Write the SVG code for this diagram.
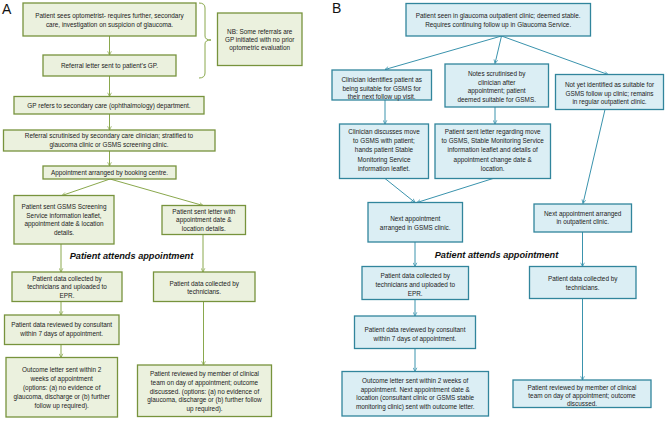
<svg xmlns="http://www.w3.org/2000/svg" width="669" height="421" viewBox="0 0 669 421">
<style>
.g{fill:#ebf1de;stroke:#77933c;stroke-width:1.3}
.b{fill:#dbeef4;stroke:#31859c;stroke-width:1.3}
.gc{stroke:#8aa84d;stroke-width:1;fill:none;marker-end:url(#ag)}
.bc{stroke:#3a93ad;stroke-width:1;fill:none;marker-end:url(#ab)}
text{font-family:"Liberation Sans",Arial,sans-serif;font-size:6.4px;fill:#222;text-anchor:middle}
.lab{font-size:14px;text-anchor:start;fill:#111}
.att{font-size:9.2px;font-weight:bold;font-style:italic;fill:#111}
</style>
<defs>
<marker id="ag" viewBox="0 0 8 8" refX="7" refY="4" markerWidth="5" markerHeight="5" orient="auto" markerUnits="userSpaceOnUse"><path d="M1,1 L7,4 L1,7" fill="none" stroke="#8aa84d" stroke-width="1.2"/></marker>
<marker id="ab" viewBox="0 0 8 8" refX="7" refY="4" markerWidth="5" markerHeight="5" orient="auto" markerUnits="userSpaceOnUse"><path d="M1,1 L7,4 L1,7" fill="none" stroke="#3a93ad" stroke-width="1.2"/></marker>
</defs>
<rect width="669" height="421" fill="#fff"/>
<text class="lab" x="2" y="14">A</text>
<text class="lab" x="332" y="13">B</text>

<g id="connectors">
<path class="gc" d="M109.5,36 V55"/>
<path class="gc" d="M109.5,76 V96.5"/>
<path class="gc" d="M109.5,114 V130"/>
<path class="gc" d="M109.5,151 V166"/>
<path class="gc" d="M110,179 L62,195.5"/>
<path class="gc" d="M110,179 L203,205.5"/>
<path class="gc" d="M61,244 V272"/>
<path class="gc" d="M203,234.5 V272"/>
<path class="gc" d="M61,301.5 V315"/>
<path class="gc" d="M61,344.5 V357.5"/>
<path class="gc" d="M203.5,301.5 V365"/>
<path d="M199,3 Q205,3 205,8 V36 Q205,40 211,40 Q205,40 205,44 V73 Q205,78 199,78" fill="none" stroke="#8aa84d" stroke-width="1"/>
<path class="bc" d="M501.5,36 L385,69.5"/>
<path class="bc" d="M501.5,36 L495,63.5"/>
<path class="bc" d="M501.5,36 L608,74.5"/>
<path class="bc" d="M385,100 V124"/>
<path class="bc" d="M495,107 V124"/>
<path class="bc" d="M385,178.5 L415,202.5"/>
<path class="bc" d="M493,178.5 L417,202.5"/>
<path class="bc" d="M605,109.5 L583,203.5"/>
<path class="bc" d="M415,242 V266.5"/>
<path class="bc" d="M582.5,232 V266.5"/>
<path class="bc" d="M415,299.5 V316"/>
<path class="bc" d="M415,348.5 V371.5"/>
<path class="bc" d="M582.5,298.5 V380"/>
</g>

<text class="att" x="131.5" y="259">Patient attends appointment</text>
<text class="att" x="496.5" y="258">Patient attends appointment</text>

<g id="a1"><rect class="g" x="23" y="3" width="173" height="33"/>
<text x="109.5" y="18.2">Patient sees optometrist- requires further, secondary</text>
<text x="109.5" y="26.7">care, investigation on suspicion of glaucoma.</text></g>
<g id="a2"><rect class="g" x="43" y="55" width="133" height="21"/>
<text x="109.5" y="67.7">Referral letter sent to patient’s GP.</text></g>
<g id="anb"><rect class="g" x="217.5" y="13" width="84.5" height="52.5"/>
<text x="259.7" y="33.7">NB: Some referrals are</text>
<text x="259.7" y="41.7">GP initiated with no prior</text>
<text x="259.7" y="49.7">optometric  evaluation</text></g>
<g id="a3"><rect class="g" x="14" y="96.5" width="190" height="17.5"/>
<text x="109" y="107.5">GP refers to secondary care (ophthalmology) department.</text></g>
<g id="a4"><rect class="g" x="3.5" y="130" width="211.5" height="21"/>
<text x="109" y="138">Referral scrutinised by secondary care clinician; stratified to</text>
<text x="109" y="146.5">glaucoma clinic or GSMS screening clinic.</text></g>
<g id="a5"><rect class="g" x="43" y="166" width="133" height="13"/>
<text x="109.5" y="174.9">Appointment  arranged by booking centre.</text></g>
<g id="a6"><rect class="g" x="14" y="195.5" width="100" height="48.5"/>
<text x="64" y="209.2">Patient sent GSMS Screening</text>
<text x="64" y="217.5">Service  information leaflet,</text>
<text x="64" y="226.2">appointment date &amp; location</text>
<text x="64" y="234.9">details.</text></g>
<g id="a7"><rect class="g" x="162" y="205.5" width="83.5" height="29"/>
<text x="203.8" y="213.9">Patient sent letter with</text>
<text x="203.8" y="222.2">appointment  date &amp;</text>
<text x="203.8" y="230.7">location details.</text></g>
<g id="a8"><rect class="g" x="12" y="272" width="110" height="29.5"/>
<text x="67" y="280.5">Patient data collected by</text>
<text x="67" y="288.9">technicians and uploaded to</text>
<text x="67" y="297.7">EPR.</text></g>
<g id="a9"><rect class="g" x="153.5" y="272" width="101.5" height="29.5"/>
<text x="204.2" y="285.5">Patient data collected by</text>
<text x="204.2" y="293.9">technicians.</text></g>
<g id="a10"><rect class="g" x="4.5" y="315" width="114.5" height="29.5"/>
<text x="61.7" y="327.2">Patient data reviewed by consultant</text>
<text x="61.7" y="336.2">within 7 days of appointment.</text></g>
<g id="a11"><rect class="g" x="6" y="357.5" width="111.5" height="59.5"/>
<text x="61.7" y="372.2">Outcome letter sent within 2</text>
<text x="61.7" y="381.2">weeks of appointment</text>
<text x="61.7" y="389.9"> (options: (a) no evidence of</text>
<text x="61.7" y="398.7">glaucoma, discharge or (b) further</text>
<text x="61.7" y="407.5">follow up required).</text></g>
<g id="a12"><rect class="g" x="137.5" y="365" width="134" height="51.5"/>
<text x="204.5" y="376.2">Patient reviewed by member  of clinical</text>
<text x="204.5" y="384.9">team on day of appointment;  outcome</text>
<text x="204.5" y="393.5">discussed. (options: (a) no evidence of</text>
<text x="204.5" y="402.2">glaucoma, discharge or (b) further  follow</text>
<text x="204.5" y="410.9">up required).</text></g>

<g id="b1"><rect class="b" x="406" y="3.5" width="184.5" height="32.5"/>
<text x="498.2" y="18.2">Patient seen in glaucoma outpatient clinic; deemed stable.</text>
<text x="498.2" y="27.2">Requires continuing follow up in Glaucoma Service.</text></g>
<g id="b2"><rect class="b" x="332" y="70" width="99.5" height="30"/>
<text x="381.7" y="82.2">Clinician identifies patient as</text>
<text x="381.7" y="90.5">being suitable for GSMS  for</text>
<text x="381.7" y="98.9">their next  follow up visit.</text></g>
<g id="b3"><rect class="b" x="445" y="64" width="103.5" height="43"/>
<text x="496.7" y="76.2">Notes scrutinised by</text>
<text x="496.7" y="84.5">clinician after</text>
<text x="496.7" y="92.9">appointment;  patient</text>
<text x="496.7" y="101.5">deemed  suitable for GSMS.</text></g>
<g id="b4"><rect class="b" x="555.5" y="74.5" width="108" height="35"/>
<text x="609.5" y="87.2">Not yet identified as suitable for</text>
<text x="609.5" y="96.2">GSMS follow up clinic; remains</text>
<text x="609.5" y="104.2">in regular outpatient clinic.</text></g>
<g id="b5"><rect class="b" x="339.5" y="124" width="89" height="54.5"/>
<text x="384" y="134.2">Clinician discusses move</text>
<text x="384" y="143.2">to GSMS  with patient;</text>
<text x="384" y="152.2">hands patient Stable</text>
<text x="384" y="161.5">Monitoring  Service</text>
<text x="384" y="170.5">information leaflet.</text></g>
<g id="b6"><rect class="b" x="435" y="124" width="115.5" height="54.5"/>
<text x="492.7" y="134.2">Patient sent letter regarding move</text>
<text x="492.7" y="143.2">to GSMS,  Stable Monitoring Service</text>
<text x="492.7" y="152.2">information leaflet and details of</text>
<text x="492.7" y="161.5">appointment  change date &amp;</text>
<text x="492.7" y="170.5">location.</text></g>
<g id="b7"><rect class="b" x="368" y="202.5" width="94.5" height="39.5"/>
<text x="415.2" y="220.5">Next appointment</text>
<text x="415.2" y="229.5">arranged in GSMS  clinic.</text></g>
<g id="b8"><rect class="b" x="534" y="204" width="97.5" height="28"/>
<text x="582.7" y="215.5">Next appointment  arranged</text>
<text x="582.7" y="224.2">in outpatient clinic.</text></g>
<g id="b9"><rect class="b" x="362" y="266.5" width="106.5" height="33"/>
<text x="415.2" y="278.2">Patient data collected by</text>
<text x="415.2" y="287.2">technicians and uploaded to</text>
<text x="415.2" y="295.5">EPR.</text></g>
<g id="b10"><rect class="b" x="529.5" y="266.5" width="106.5" height="32"/>
<text x="582.7" y="280.5">Patient data collected by</text>
<text x="582.7" y="289.5">technicians.</text></g>
<g id="b11"><rect class="b" x="354.5" y="316" width="121" height="32.5"/>
<text x="415" y="332.2">Patient data reviewed by consultant</text>
<text x="415" y="341.2">within 7 days of appointment.</text></g>
<g id="b12"><rect class="b" x="342" y="371.5" width="146.5" height="44.5"/>
<text x="415.2" y="382.9">Outcome letter sent within 2 weeks of</text>
<text x="415.2" y="391.9">appointment.  Next appointment  date &amp;</text>
<text x="415.2" y="400.2">location (consultant clinic or GSMS stable</text>
<text x="415.2" y="408.9">monitoring  clinic) sent with outcome  letter.</text></g>
<g id="b13"><rect class="b" x="513" y="380" width="138" height="27.5"/>
<text x="582" y="389.5">Patient reviewed by member  of clinical</text>
<text x="582" y="398.2">team on day of appointment;  outcome</text>
<text x="582" y="406.2">discussed.</text></g>
</svg>
